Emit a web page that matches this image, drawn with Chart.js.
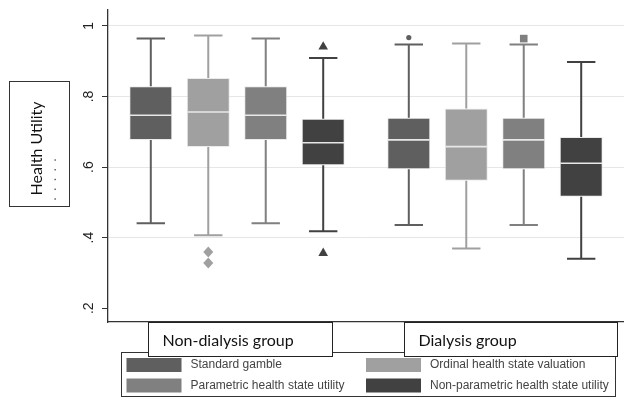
<!DOCTYPE html>
<html>
<head>
<meta charset="utf-8">
<script src="https://cdn.jsdelivr.net/npm/chart.js@4/dist/chart.umd.min.js"></script>
<style>
html,body{margin:0;padding:0;background:#fff;}
#wrap{width:624px;height:398px;position:relative;}
</style>
</head>
<body>
<div id="wrap"><canvas id="c" width="624" height="398"></canvas></div>
<script>
// ---- data ----
const groups = ['Non-dialysis group', 'Dialysis group'];
const seriesNames = ['Standard gamble', 'Ordinal health state valuation', 'Parametric health state utility', 'Non-parametric health state utility'];
const tickVals = [0.2, 0.4, 0.6, 0.8, 1];
const tickLabels = ['.2', '.4', '.6', '.8', '1'];
const yTitle = 'Health Utility';

const sgMin = [0.441, 0.436], sgQ1 = [0.677, 0.594], sgMed = [0.747, 0.677], sgQ3 = [0.829, 0.740], sgMax = [0.964, 0.947];
const ordMin = [0.407, 0.369], ordQ1 = [0.657, 0.561], ordMed = [0.756, 0.658], ordQ3 = [0.852, 0.766], ordMax = [0.973, 0.950];
const parMin = [0.441, 0.436], parQ1 = [0.677, 0.594], parMed = [0.747, 0.677], parQ3 = [0.829, 0.740], parMax = [0.964, 0.947];
const npMin = [0.418, 0.340], npQ1 = [0.605, 0.516], npMed = [0.669, 0.611], npQ3 = [0.737, 0.685], npMax = [0.909, 0.898];
const sgOut = [[], [0.967]];
const ordOut = [[0.359, 0.328], []];
const parOut = [[], [0.964]];
const npOut = [[0.944, 0.359], []];

const colors = ['#5f5f5f', '#a0a0a0', '#808080', '#414141'];
const markers = ['circle', 'diamond', 'square', 'triangle'];

const stats = [
  {min: sgMin, q1: sgQ1, med: sgMed, q3: sgQ3, max: sgMax, out: sgOut},
  {min: ordMin, q1: ordQ1, med: ordMed, q3: ordQ3, max: ordMax, out: ordOut},
  {min: parMin, q1: parQ1, med: parMed, q3: parQ3, max: parMax, out: parOut},
  {min: npMin, q1: npQ1, med: npMed, q3: npQ3, max: npMax, out: npOut}
];

const datasets = stats.map((s, k) => ({
  label: seriesNames[k],
  data: s.q1.map((v, i) => [v, s.q3[i]]),
  backgroundColor: colors[k],
  borderColor: 'rgba(230,230,230,0.8)',
  borderWidth: 1,
  borderSkipped: false,
  categoryPercentage: 0.891,
  barPercentage: 0.748
}));

function marker(ctx, type, x, y, color) {
  ctx.save();
  ctx.fillStyle = color;
  ctx.beginPath();
  if (type === 'circle') {
    ctx.arc(x, y, 2.6, 0, Math.PI * 2);
  } else if (type === 'diamond') {
    ctx.moveTo(x, y - 5.5); ctx.lineTo(x + 5, y); ctx.lineTo(x, y + 5.5); ctx.lineTo(x - 5, y); ctx.closePath();
  } else if (type === 'square') {
    ctx.rect(x - 3.8, y - 3.8, 7.6, 7.6);
  } else if (type === 'triangle') {
    ctx.moveTo(x, y - 4.5); ctx.lineTo(x + 4.8, y + 3.8); ctx.lineTo(x - 4.8, y + 3.8); ctx.closePath();
  }
  ctx.fill();
  ctx.restore();
}

const boxPlugin = {
  id: 'boxExtras',
  afterDatasetsDraw(chart) {
    const ctx = chart.ctx, ys = chart.scales.y;
    stats.forEach((s, k) => {
      const meta = chart.getDatasetMeta(k);
      meta.data.forEach((bar, i) => {
        const x = bar.x, w = bar.width;
        const py = v => ys.getPixelForValue(v);
        ctx.save();
        ctx.strokeStyle = colors[k];
        ctx.lineWidth = 2;
        ctx.beginPath();
        ctx.moveTo(x, py(s.q3[i])); ctx.lineTo(x, py(s.max[i]));
        ctx.moveTo(x, py(s.q1[i])); ctx.lineTo(x, py(s.min[i]));
        const cw = w * 0.33;
        ctx.moveTo(x - cw, py(s.max[i])); ctx.lineTo(x + cw, py(s.max[i]));
        ctx.moveTo(x - cw, py(s.min[i])); ctx.lineTo(x + cw, py(s.min[i]));
        ctx.stroke();
        ctx.strokeStyle = '#e8e8e8';
        ctx.lineWidth = 1.6;
        ctx.beginPath();
        ctx.moveTo(x - w / 2 + 0.5, py(s.med[i])); ctx.lineTo(x + w / 2 - 0.5, py(s.med[i]));
        ctx.stroke();
        ctx.restore();
        s.out[i].forEach(v => marker(ctx, markers[k], x, py(v), colors[k]));
      });
    });
  },
  afterDraw(chart) {
    const ctx = chart.ctx, ys = chart.scales.y;
    // y tick labels (rotated)
    ctx.save();
    ctx.fillStyle = '#222';
    ctx.font = '14px "Liberation Sans", Arial, sans-serif';
    ctx.textAlign = 'center';
    ctx.textBaseline = 'middle';
    tickVals.forEach((v, i) => {
      ctx.save();
      ctx.translate(89, ys.getPixelForValue(v));
      ctx.rotate(-Math.PI / 2);
      ctx.fillText(tickLabels[i], 0, 0);
      ctx.restore();
    });
    ctx.restore();

    // y title box
    ctx.save();
    ctx.strokeStyle = '#333';
    ctx.lineWidth = 1;
    ctx.fillStyle = '#fff';
    ctx.fillRect(9.5, 81.5, 60, 125);
    ctx.strokeRect(9.5, 81.5, 60, 125);
    ctx.fillStyle = '#111';
    ctx.font = '16px Lato, "Open Sans", sans-serif';
    ctx.textAlign = 'center';
    ctx.textBaseline = 'middle';
    ctx.translate(37, 148.5);
    ctx.rotate(-Math.PI / 2);
    ctx.fillText(yTitle, 0, 0);
    ctx.fillStyle = '#555';
    ctx.font = '13px Lato, sans-serif';
    ctx.textAlign = 'left';
    ctx.fillText('.  .  .  .  .', -52, 15);
    ctx.restore();

    // legend
    ctx.save();
    ctx.fillStyle = '#fff';
    ctx.fillRect(121, 352, 494, 45);
    ctx.strokeStyle = '#333';
    ctx.lineWidth = 1;
    ctx.strokeRect(121.5, 352.5, 494, 44);
    const order = [0, 2, 1, 3];
    const cols = [126.5, 366];
    const rows = [358, 378.5];
    ctx.font = '12px "Liberation Sans", Arial, sans-serif';
    ctx.textBaseline = 'middle';
    ctx.textAlign = 'left';
    order.forEach((k, j) => {
      const col = j < 2 ? 0 : 1, row = j % 2;
      ctx.fillStyle = colors[k];
      ctx.fillRect(cols[col], rows[row], 55, 14);
      ctx.fillStyle = '#444';
      ctx.fillText(seriesNames[k], cols[col] + 64, rows[row] + 7);
    });
    ctx.restore();

    // group label boxes
    ctx.save();
    const boxes = [[148.5, 322.5, 184, 34], [404.5, 322.5, 213, 34]];
    ctx.font = '16px Lato, "Open Sans", sans-serif';
    ctx.textBaseline = 'middle';
    ctx.textAlign = 'left';
    groups.forEach((g, i) => {
      const b = boxes[i];
      ctx.fillStyle = '#fff';
      ctx.fillRect(b[0], b[1], b[2], b[3]);
      ctx.strokeStyle = '#222';
      ctx.lineWidth = 1;
      ctx.strokeRect(b[0], b[1], b[2], b[3]);
      ctx.fillStyle = '#111';
      ctx.fillText(g, b[0] + 14, b[1] + 18);
    });
    ctx.restore();
  }
};

new Chart(document.getElementById('c'), {
  type: 'bar',
  data: {labels: groups, datasets: datasets},
  options: {
    responsive: false,
    animation: false,
    layout: {padding: {top: 10, left: 0, right: 0, bottom: 0}},
    plugins: {legend: {display: false}, tooltip: {enabled: false}},
    scales: {
      x: {
        grid: {display: false},
        ticks: {display: false},
        border: {display: true, color: '#333', width: 1.3},
        afterFit: s => { s.height = 76; }
      },
      y: {
        min: 0.161, max: 1.045,
        afterBuildTicks: s => { s.ticks = tickVals.map(v => ({value: v})); },
        ticks: {display: false},
        grid: {
          color: c => (c.tick && c.tick.value > 0.3) ? '#e6e6e6' : 'rgba(0,0,0,0)',
          tickColor: '#333',
          tickLength: 6,
          lineWidth: 1
        },
        border: {display: true, color: '#333', width: 1.3},
        afterFit: s => { s.width = 108; }
      }
    }
  },
  plugins: [boxPlugin]
});
</script>
</body>
</html>
